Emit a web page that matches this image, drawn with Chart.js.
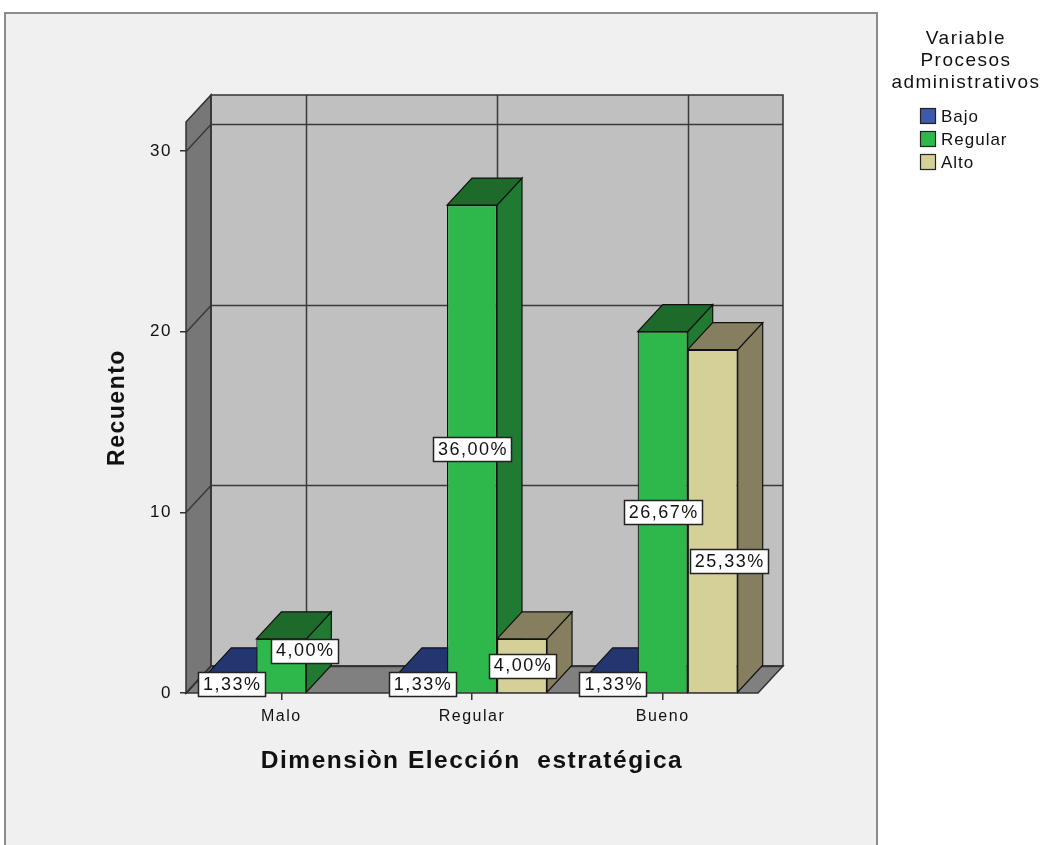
<!DOCTYPE html>
<html>
<head>
<meta charset="utf-8">
<script src="https://cdn.jsdelivr.net/npm/chart.js@4.4.1/dist/chart.umd.min.js"></script>
<style>
  html, body { margin: 0; padding: 0; background: #fff; }
  #chart { display: block; }
</style>
</head>
<body>
<canvas id="chart" width="1048" height="845"></canvas>
<script>
// Counts per category of "Dimensiòn Elección estratégica"
const categories = ['Malo', 'Regular', 'Bueno'];
const seriesNames = ['Bajo', 'Regular', 'Alto'];
const bajoCounts = [1, 1, 1];
const regularCounts = [3, 27, 20];
const altoCounts = [0, 3, 19];
const totalCount = 75;
const yTicks = [0, 10, 20, 30];

const legendTitle = ['Variable', 'Procesos', 'administrativos'];

// front / top / side colours of each series
const faceColors = {
    Bajo:    { front: '#3e58ac', top: '#233670', side: '#2a4287' },
    Regular: { front: '#2eb84b', top: '#1d6a2b', side: '#207a31' },
    Alto:    { front: '#d5cf98', top: '#857f5f', side: '#857f5f' }
};

const DX = 25, DY = -27;          // depth of the 3d box
const FONT = "'Liberation Sans', Arial, sans-serif";

// a couple of labels are pushed aside so they do not overlap
const labelNudge = { '0-1': [23, -15], '2-2': [16, 40] };

function pctText(v) {
    return (v / totalCount * 100).toFixed(2).replace('.', ',') + '%';
}

function poly(ctx, pts, fill, stroke, lw) {
    ctx.beginPath();
    ctx.moveTo(pts[0][0], pts[0][1]);
    for (let i = 1; i < pts.length; i++) ctx.lineTo(pts[i][0], pts[i][1]);
    ctx.closePath();
    if (fill) { ctx.fillStyle = fill; ctx.fill(); }
    if (stroke) { ctx.strokeStyle = stroke; ctx.lineWidth = lw || 1; ctx.stroke(); }
}

const box3d = {
    id: 'box3d',
    beforeDraw(chart) {
        const ctx = chart.ctx;
        ctx.letterSpacing = '1.5px';
        ctx.save();
        ctx.fillStyle = '#fff';
        ctx.fillRect(0, 0, chart.width, chart.height);
        // outer frame
        ctx.fillStyle = '#f0f0f0';
        ctx.fillRect(5, 13, 872, 860);
        ctx.strokeStyle = '#8c8c8c';
        ctx.lineWidth = 2;
        ctx.strokeRect(5, 13, 872, 860);

        const { left, right, top, bottom } = chart.chartArea;
        const ys = chart.scales.y, xs = chart.scales.x;
        // walls and floor
        poly(ctx, [[left + DX, top + DY], [right + DX, top + DY], [right + DX, bottom + DY], [left + DX, bottom + DY]], '#c0c0c0');
        poly(ctx, [[left, top], [left + DX, top + DY], [left + DX, bottom + DY], [left, bottom]], '#777777');
        poly(ctx, [[left, bottom], [right, bottom], [right + DX, bottom + DY], [left + DX, bottom + DY]], '#808080');

        ctx.strokeStyle = '#3a3a3a';
        ctx.lineWidth = 1.5;
        ctx.beginPath();
        yTicks.forEach(v => {
            const y = Math.round(ys.getPixelForValue(v)) + 0.5;
            ctx.moveTo(left, y);
            ctx.lineTo(left + DX, y + DY);
            ctx.lineTo(right + DX, y + DY);
        });
        categories.forEach((c, i) => {
            const x = Math.round(xs.getPixelForValue(i)) + DX + 0.5;
            ctx.moveTo(x, top + DY);
            ctx.lineTo(x, bottom + DY);
        });
        ctx.stroke();

        // box edges
        poly(ctx, [[left + DX, top + DY], [right + DX, top + DY], [right + DX, bottom + DY], [left + DX, bottom + DY]], null, '#333', 1.5);
        poly(ctx, [[left, top], [left + DX, top + DY], [left + DX, bottom + DY], [left, bottom]], null, '#333', 1.5);
        poly(ctx, [[left, bottom], [right, bottom], [right + DX, bottom + DY], [left + DX, bottom + DY]], null, '#333', 1.5);
        ctx.restore();
    },
    beforeDatasetsDraw(chart) {
        const ctx = chart.ctx;
        // top and side faces, drawn left to right
        const bars = [];
        chart.data.datasets.forEach((ds, di) => {
            chart.getDatasetMeta(di).data.forEach((bar, i) => {
                if (ds.data[i] > 0) bars.push({ bar, colors: faceColors[ds.label] });
            });
        });
        bars.sort((a, b) => a.bar.x - b.bar.x);
        ctx.save();
        bars.forEach(({ bar, colors }) => {
            const l = bar.x - bar.width / 2, r = bar.x + bar.width / 2;
            const t = bar.y, b = bar.base;
            poly(ctx, [[r, t], [r + DX, t + DY], [r + DX, b + DY], [r, b]], colors.side, '#111', 1.2);
            poly(ctx, [[l, t], [r, t], [r + DX, t + DY], [l + DX, t + DY]], colors.top, '#111', 1.2);
        });
        ctx.restore();
    },
    afterDatasetsDraw(chart) {
        const ctx = chart.ctx;
        ctx.save();
        ctx.font = '18px ' + FONT;
        ctx.textAlign = 'center';
        ctx.textBaseline = 'middle';
        chart.data.datasets.forEach((ds, di) => {
            chart.getDatasetMeta(di).data.forEach((bar, i) => {
                const v = ds.data[i];
                if (!(v > 0)) return;
                const nudge = labelNudge[i + '-' + di] || [0, 0];
                const cx = bar.x + nudge[0];
                const cy = (bar.y + bar.base) / 2 + nudge[1];
                const txt = pctText(v);
                const w = ctx.measureText(txt).width + 8;
                const h = 24;
                ctx.fillStyle = '#fff';
                ctx.fillRect(Math.round(cx - w / 2) + 0.5, Math.round(cy - h / 2) + 0.5, Math.round(w), h);
                ctx.strokeStyle = '#222';
                ctx.lineWidth = 1.5;
                ctx.strokeRect(Math.round(cx - w / 2) + 0.5, Math.round(cy - h / 2) + 0.5, Math.round(w), h);
                ctx.fillStyle = '#111';
                ctx.fillText(txt, cx + 1, cy + 1);
            });
        });
        ctx.restore();
    },
    afterDraw(chart) {
        // legend at the right
        const ctx = chart.ctx;
        ctx.save();
        ctx.fillStyle = '#111';
        ctx.textBaseline = 'middle';
        ctx.textAlign = 'center';
        ctx.font = '19px ' + FONT;
        legendTitle.forEach((line, i) => ctx.fillText(line, 966, 39 + i * 22));
        ctx.textAlign = 'left';
        ctx.font = '17px ' + FONT;
        ctx.letterSpacing = '1px';
        seriesNames.forEach((name, i) => {
            const y = 116 + i * 23;
            ctx.fillStyle = faceColors[name].front;
            ctx.fillRect(920, y - 8, 16, 16);
            ctx.strokeStyle = '#222';
            ctx.lineWidth = 1.2;
            ctx.strokeRect(920.5, y - 7.5, 15, 15);
            ctx.fillStyle = '#111';
            ctx.fillText(name, 941, y + 1);
        });
        ctx.restore();
    }
};

Chart.defaults.font.family = FONT;
Chart.defaults.color = '#111';

new Chart(document.getElementById('chart'), {
    type: 'bar',
    data: {
        labels: categories,
        datasets: [
            { label: seriesNames[0], data: bajoCounts, backgroundColor: faceColors.Bajo.front },
            { label: seriesNames[1], data: regularCounts, backgroundColor: faceColors.Regular.front },
            { label: seriesNames[2], data: altoCounts, backgroundColor: faceColors.Alto.front }
        ].map(ds => Object.assign(ds, {
            borderColor: '#111',
            borderWidth: 1.2,
            barPercentage: 1,
            categoryPercentage: 0.787
        }))
    },
    options: {
        responsive: false,
        animation: false,
        layout: { padding: { left: 100, right: 290, top: 122, bottom: 69 } },
        plugins: {
            legend: { display: false },
            tooltip: { enabled: false }
        },
        scales: {
            x: {
                grid: { offset: false, drawOnChartArea: false, tickLength: 7, color: '#333', lineWidth: 1.5 },
                border: { display: false },
                ticks: { font: { size: 16 }, padding: 7 },
                title: {
                    display: true,
                    text: 'Dimensiòn Elección  estratégica',
                    font: { size: 24.5, weight: 'bold' },
                    padding: { top: 3, bottom: 0 }
                },
                afterFit(scale) { scale.height = 83; }
            },
            y: {
                min: 0,
                max: 31.6,
                afterBuildTicks(scale) { scale.ticks = yTicks.map(v => ({ value: v })); },
                grid: { drawOnChartArea: false, tickLength: 6, color: '#333', lineWidth: 1.5 },
                border: { display: false },
                ticks: { font: { size: 17 }, padding: 8 },
                title: {
                    display: true,
                    text: 'Recuento',
                    font: { size: 23, weight: 'bold' },
                    padding: { top: 4, bottom: 0 }
                },
                afterFit(scale) { scale.width = 86; }
            }
        }
    },
    plugins: [box3d]
});
</script>
</body>
</html>
